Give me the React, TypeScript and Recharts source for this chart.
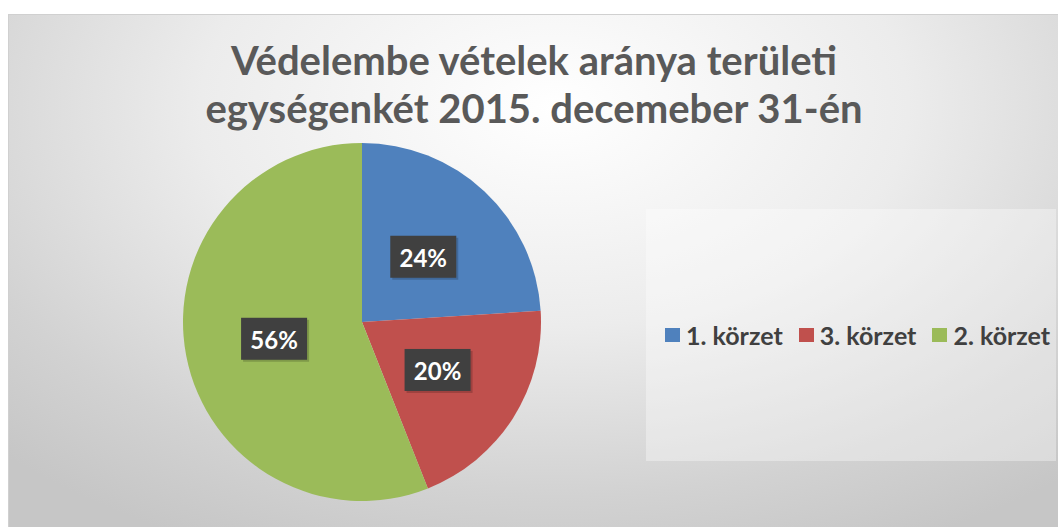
import { PieChart, Pie, Cell, Legend } from 'recharts';

const categories = ['1. körzet', '3. körzet', '2. körzet'];
const shares = [24, 20, 56];
const COLORS = ['#4F81BD', '#C0504D', '#9BBB59'];
const titleLines = ['Védelembe vételek aránya területi', 'egységenkét 2015. decemeber 31-én'];

const data = categories.map((name, i) => ({ name, value: shares[i] }));

const RAD = Math.PI / 180;
const FONT = "Lato, 'Open Sans', sans-serif";

const renderLabel = (props: any) => {
  const { cx, cy, midAngle, outerRadius, value } = props;
  const r = outerRadius * 0.5;
  const x = cx + r * Math.cos(-midAngle * RAD);
  const y = cy + r * Math.sin(-midAngle * RAD);
  return (
    <g>
      <rect x={x - 31} y={y - 19} width={66} height={42} fill="#000" opacity={0.18} />
      <rect x={x - 33} y={y - 21} width={66} height={42} fill="#404040" />
      <text
        x={x}
        y={y + 1}
        fill="#fff"
        textAnchor="middle"
        dominantBaseline="central"
        fontFamily={FONT}
        fontWeight={700}
        fontSize={24}
      >
        {value}%
      </text>
    </g>
  );
};

const renderLegend = () => (
  <div
    style={{
      width: '100%',
      height: '100%',
      background: 'rgba(255,255,255,0.35)',
      display: 'flex',
      alignItems: 'center',
      paddingLeft: 19,
      boxSizing: 'border-box',
      whiteSpace: 'nowrap',
    }}
  >
    {categories.map((name, i) => (
      <div key={name} style={{ display: 'flex', alignItems: 'center', marginRight: 16, flexShrink: 0 }}>
        <span style={{ width: 15, height: 14, background: COLORS[i], display: 'inline-block', marginRight: 6, flexShrink: 0 }} />
        <span style={{ fontFamily: FONT, fontWeight: 700, fontSize: 25, color: '#404040' }}>{name}</span>
      </div>
    ))}
  </div>
);

export default function App() {
  return (
    <div style={{ position: 'absolute', left: 0, top: 0, width: 1058, height: 527, background: '#fff' }}>
      <div
        style={{
          position: 'absolute',
          left: 8,
          top: 14,
          width: 1050,
          height: 513,
          boxSizing: 'border-box',
          borderTop: '1px solid #d0d0d0',
          borderLeft: '1px solid #d0d0d0',
          overflow: 'hidden',
          background: 'radial-gradient(ellipse 75% 95% at 52% 18%, #ffffff 0%, #ececec 45%, #d2d2d2 80%, #c6c6c6 100%)',
        }}
      >
        <div
          style={{
            position: 'absolute',
            left: 0,
            top: 21,
            width: 1050,
            textAlign: 'center',
            fontFamily: FONT,
            fontWeight: 700,
            fontSize: 40,
            lineHeight: '48px',
            color: '#595959',
          }}
        >
          {titleLines.map((t) => (
            <div key={t}>{t}</div>
          ))}
        </div>
        <div style={{ position: 'absolute', left: 0, top: 0 }}>
          <PieChart width={1050} height={513} margin={{ top: 0, right: 0, bottom: 0, left: 0 }}>
            <Pie
              data={data}
              dataKey="value"
              nameKey="name"
              cx={353}
              cy={307}
              outerRadius={179}
              startAngle={90}
              endAngle={-270}
              stroke="none"
              label={renderLabel}
              labelLine={false}
              isAnimationActive={false}
            >
              {data.map((d, i) => (
                <Cell key={d.name} fill={COLORS[i]} />
              ))}
            </Pie>
            <Legend
              content={renderLegend}
              wrapperStyle={{ position: 'absolute', left: 637, top: 194, width: 410, height: 252 }}
            />
          </PieChart>
        </div>
      </div>
    </div>
  );
}
